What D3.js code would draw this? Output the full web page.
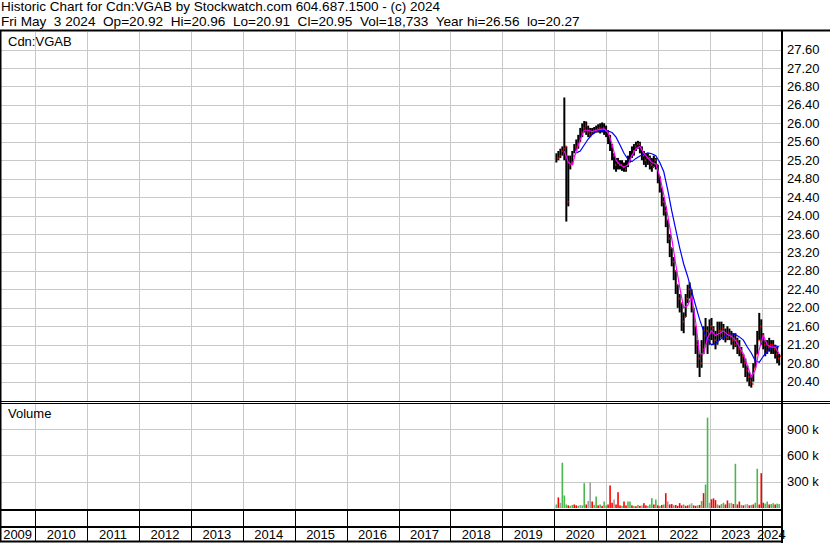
<!DOCTYPE html>
<html>
<head>
<meta charset="utf-8">
<script src="https://cdn.jsdelivr.net/npm/d3@7"></script>
<style>
  body { margin: 0; background: #fff; position: relative; }
  text { font-family: "Liberation Sans", Arial, sans-serif; fill: #000; }
  .head { position: absolute; left: 1px; white-space: pre; font-family: "Liberation Sans", Arial, sans-serif;
          color: #000; line-height: 15px; }
</style>
</head>
<body>
<svg id="chart" width="830" height="543"></svg>
<script>
// ---- data (one bar every two weeks) ----
const firstBar = new Date(2020, 0, 17)
const years = d3.range(2009, 2025)
const priceTicks = [20.4, 20.8, 21.2, 21.6, 22.0, 22.4, 22.8, 23.2, 23.6, 24.0, 24.4, 24.8, 25.2, 25.6, 26.0, 26.4, 26.8, 27.2, 27.6]
const volumeTicks = [300000, 600000, 900000]

const high = [25.35, 25.4, 25.45, 25.5, 26.56, 25.5, 25.3, 25.3, 25.4, 25.55,
  25.65, 25.75, 25.9, 26.0, 26.05, 26.04, 25.95, 25.9, 25.9, 25.92,
  25.95, 25.98, 26.0, 26.02, 26.0, 25.95, 25.85, 25.75, 25.55, 25.35,
  25.25, 25.25, 25.2, 25.2, 25.15, 25.2, 25.3, 25.4, 25.5, 25.55,
  25.6, 25.62, 25.6, 25.5, 25.4, 25.35, 25.35, 25.3, 25.25, 25.3,
  25.25, 25.1, 24.85, 24.6, 24.4, 24.2, 23.9, 23.6, 23.3, 23.1,
  22.8, 22.5, 22.3, 22.1, 21.9, 22.3, 22.5, 22.55, 22.4, 22.0,
  21.6, 21.3, 21.0, 21.3, 21.6, 21.78, 21.6, 21.75, 21.78, 21.6,
  21.5, 21.7, 21.7, 21.7, 21.65, 21.55, 21.6, 21.55, 21.5, 21.45,
  21.45, 21.35, 21.3, 21.15, 21.0, 20.9, 20.75, 20.6, 20.55, 20.8,
  21.2, 21.5, 21.89, 21.75, 21.45, 21.3, 21.3, 21.35, 21.3, 21.3,
  21.2, 21.15, 21.0]
const low = [25.15, 25.2, 25.25, 25.3, 25.2, 23.87, 24.2, 25.0, 25.1, 25.35,
  25.4, 25.45, 25.6, 25.7, 25.8, 25.75, 25.7, 25.7, 25.75, 25.78,
  25.8, 25.8, 25.78, 25.8, 25.75, 25.7, 25.55, 25.4, 25.2, 25.0,
  24.95, 25.0, 25.0, 24.97, 24.95, 24.95, 25.05, 25.15, 25.25, 25.3,
  25.4, 25.45, 25.35, 25.2, 25.1, 25.05, 25.1, 25.0, 24.95, 25.05,
  25.0, 24.7, 24.5, 24.2, 24.0, 23.75, 23.4, 23.1, 22.9, 22.6,
  22.3, 22.0, 21.9, 21.5, 21.45, 21.8, 22.1, 22.2, 21.9, 21.4,
  21.0, 20.7, 20.5, 20.7, 21.0, 21.2, 21.0, 21.2, 21.3, 21.2,
  21.1, 21.2, 21.3, 21.35, 21.3, 21.25, 21.3, 21.3, 21.2, 21.1,
  21.15, 21.0, 20.95, 20.8, 20.7, 20.5, 20.4, 20.3, 20.27, 20.4,
  20.7, 21.0, 21.3, 21.2, 21.1, 20.95, 21.0, 21.05, 21.0, 21.0,
  20.9, 20.8, 20.75]
const close = [25.25, 25.3, 25.4, 25.45, 25.5, 24.3, 25.1, 25.15, 25.3, 25.5,
  25.55, 25.6, 25.8, 25.9, 25.95, 25.8, 25.75, 25.78, 25.82, 25.85,
  25.88, 25.9, 25.85, 25.9, 25.85, 25.8, 25.7, 25.5, 25.3, 25.1,
  25.15, 25.1, 25.1, 25.05, 25.0, 25.1, 25.2, 25.3, 25.4, 25.5,
  25.55, 25.55, 25.45, 25.3, 25.2, 25.25, 25.25, 25.1, 25.05, 25.2,
  25.1, 24.85, 24.6, 24.3, 24.1, 23.9, 23.5, 23.3, 23.0, 22.8,
  22.5, 22.2, 22.1, 21.7, 21.8, 22.2, 22.4, 22.35, 22.0, 21.6,
  21.2, 20.9, 20.8, 21.1, 21.4, 21.5, 21.3, 21.6, 21.55, 21.3,
  21.25, 21.5, 21.5, 21.55, 21.4, 21.35, 21.45, 21.4, 21.3, 21.2,
  21.3, 21.1, 21.05, 20.95, 20.8, 20.65, 20.5, 20.4, 20.35, 20.7,
  21.0, 21.3, 21.6, 21.4, 21.2, 21.05, 21.15, 21.2, 21.2, 21.1,
  21.0, 20.9, 20.95]

// moving averages, one point every four weeks
const maFastStart = 4
const maFast = [25.4, 25.15, 25.1, 25.4, 25.65, 25.85, 25.85, 25.82, 25.85, 25.87,
  25.88, 25.8, 25.55, 25.2, 25.1, 25.05, 25.1, 25.3, 25.45, 25.5,
  25.35, 25.25, 25.15, 25.12, 24.85, 24.45, 24.0, 23.5, 22.95, 22.45,
  22.0, 22.05, 22.25, 21.7, 21.0, 21.0, 21.35, 21.5, 21.4, 21.45,
  21.5, 21.42, 21.38, 21.3, 21.15, 21.0, 20.75, 20.5, 20.65, 21.1,
  21.4, 21.2, 21.15, 21.15, 21.0]
const maSlowStart = 10
const maSlow = [25.36, 25.4, 25.53, 25.66, 25.76, 25.82, 25.84, 25.84, 25.83, 25.8,
  25.7, 25.53, 25.35, 25.22, 25.17, 25.24, 25.29, 25.33, 25.36, 25.34,
  25.3, 25.15, 24.95, 24.55, 24.1, 23.7, 23.3, 22.95, 22.68, 22.36,
  22.05, 21.75, 21.5, 21.3, 21.2, 21.23, 21.3, 21.36, 21.42, 21.45,
  21.42, 21.37, 21.3, 21.15, 21.02, 20.85, 20.82, 20.95, 21.06, 21.15,
  21.18, 21.15]

// volume in thousands, with direction: u = up, d = down, n = unchanged
const volume = [40, 120, 60, 516, 143, 40, 30, 25, 35, 40,
  30, 25, 35, 30, 283, 40, 80, 291, 74, 35,
  131, 30, 40, 25, 74, 30, 40, 257, 60, 97,
  40, 180, 30, 25, 74, 30, 74, 74, 30, 25,
  20, 35, 25, 30, 55, 30, 25, 40, 112, 40,
  97, 30, 25, 35, 40, 169, 74, 40, 45, 30,
  35, 25, 55, 30, 40, 25, 30, 40, 55, 30,
  25, 30, 35, 80, 169, 268, 1030, 60, 100, 110,
  90, 40, 30, 45, 60, 40, 86, 55, 60, 45,
  504, 40, 74, 35, 30, 40, 45, 30, 35, 40,
  60, 447, 40, 397, 60, 50, 74, 40, 45, 55,
  40, 50, 45]
const volDir = ['u','d','n','u','u','u','d','u','u','d',
  'd','u','n','u','u','d','n','n','d','u',
  'u','d','u','d','u','u','d','d','d','n',
  'd','d','d','u','d','d','u','u','d','u',
  'd','u','d','n','d','d','u','u','u','d',
  'u','d','u','d','u','d','n','d','d','u',
  'd','d','d','d','u','d','d','u','n','d',
  'd','u','d','u','d','u','u','n','d','d',
  'd','u','d','u','u','d','d','u','n','d',
  'u','d','d','u','d','n','n','d','u','d',
  'u','u','d','d','d','u','u','d','u','u',
  'd','u','u']

const header1 = 'Historic Chart for Cdn:VGAB by Stockwatch.com 604.687.1500 - (c) 2024'
// second header line: fields separated by two spaces, as on the original
const header2Fields = ['Fri May', '3 2024', 'Op=20.92', 'Hi=20.96', 'Lo=20.91', 'Cl=20.95', 'Vol=18,733', 'Year hi=26.56', 'lo=20.27']
const header2 = header2Fields.join('\u0020\u0020')

// ---- layout ----
const svg = d3.select('#chart')
const axisX = 782
const barDate = i => d3.timeDay.offset(firstBar, 14 * i)

const x = d3.scaleTime()
    .domain([new Date(2009, 3, 28), new Date(2024, 4, 16)])
    .range([0, axisX - 1])
const y = d3.scaleLinear().domain([19.98, 27.98]).range([401, 32])
const yVol = d3.scaleLinear().domain([0, 1186000]).range([508, 404])

const grid = '#c8c8c8'
const yearStarts = years.slice(1).map(yr => new Date(yr, 0, 1))

// header text as html so the double spaces stay
d3.select('body').append('div').attr('class', 'head')
    .style('top', '-1px').style('font-size', '13.5px').text(header1)
d3.select('body').append('div').attr('class', 'head')
    .style('top', '14px').style('font-size', '13.6px').text(header2)

// grid lines, price panel and volume panel
const gridG = svg.append('g').attr('stroke', grid).attr('stroke-width', 1)
gridG.selectAll('.vg').data(yearStarts).join('line')
    .attr('x1', d => Math.round(x(d)) + 0.5).attr('x2', d => Math.round(x(d)) + 0.5)
    .attr('y1', 32).attr('y2', 401)
gridG.selectAll('.vg2').data(yearStarts).join('line')
    .attr('x1', d => Math.round(x(d)) + 0.5).attr('x2', d => Math.round(x(d)) + 0.5)
    .attr('y1', 404).attr('y2', 509)
gridG.selectAll('.hg').data(priceTicks).join('line')
    .attr('x1', 1).attr('x2', axisX)
    .attr('y1', d => Math.round(y(d)) + 0.5).attr('y2', d => Math.round(y(d)) + 0.5)
gridG.selectAll('.hv').data(volumeTicks).join('line')
    .attr('x1', 1).attr('x2', axisX)
    .attr('y1', d => Math.round(yVol(d)) + 0.5).attr('y2', d => Math.round(yVol(d)) + 0.5)

// volume bars
const volColor = { u: '#4cb84c', d: '#ff0000', n: '#a0a0a0' }
svg.append('g').selectAll('rect').data(volume).join('rect')
    .attr('x', (d, i) => x(barDate(i)) - 0.8)
    .attr('width', 1.6)
    .attr('y', d => yVol(d * 1000))
    .attr('height', d => yVol(0) - yVol(d * 1000))
    .attr('fill', (d, i) => volColor[volDir[i]])

// price bars: black high-low, red close tick
const bars = close.map((c, i) => ({ date: barDate(i), hi: high[i], lo: low[i], cl: c }))
const barG = svg.append('g')
barG.selectAll('rect.hl').data(bars).join('rect')
    .attr('x', d => x(d.date) - 1).attr('width', 2)
    .attr('y', d => y(d.hi)).attr('height', d => Math.max(1, y(d.lo) - y(d.hi)))
    .attr('fill', '#000')
barG.selectAll('rect.cl').data(bars).join('rect')
    .attr('x', d => x(d.date) + 1).attr('width', 1.2)
    .attr('y', d => y(d.cl) - 1).attr('height', 2)
    .attr('fill', '#ff0000')

// moving averages
const line = d3.line().x(d => x(d.date)).y(d => y(d.v))
const slowPts = maSlow.map((v, k) => ({ date: barDate(maSlowStart + 2 * k), v }))
const fastPts = maFast.map((v, k) => ({ date: barDate(maFastStart + 2 * k), v }))
svg.append('path').datum(slowPts).attr('d', line)
    .attr('fill', 'none').attr('stroke', '#0000ff').attr('stroke-width', 1.2)
svg.append('path').datum(fastPts).attr('d', line)
    .attr('fill', 'none').attr('stroke', '#ff00ff').attr('stroke-width', 1.2)

// panel titles
svg.append('text').attr('x', 8).attr('y', 46).attr('font-size', 13).text('Cdn:VGAB')
svg.append('text').attr('x', 8).attr('y', 418).attr('font-size', 13).text('Volume')

// right axis labels
svg.append('g').selectAll('text').data(priceTicks).join('text')
    .attr('x', 787).attr('y', d => y(d)).attr('dy', '0.35em')
    .attr('font-size', 13).text(d => d.toFixed(2))
svg.append('g').selectAll('text').data(volumeTicks).join('text')
    .attr('x', 787).attr('y', d => yVol(d)).attr('dy', '0.35em')
    .attr('font-size', 13).text(d => d / 1000 + ' k')

// bottom date axis: dividers and year labels
const divG = svg.append('g').attr('stroke', '#000').attr('stroke-width', 1)
divG.selectAll('line').data(yearStarts).join('line')
    .attr('x1', d => Math.round(x(d)) + 0.5).attr('x2', d => Math.round(x(d)) + 0.5)
    .attr('y1', 511).attr('y2', 541)
const labelX = yr => {
  const a = Math.max(0, x(new Date(yr, 0, 1)))
  const b = Math.min(axisX - 1, x(new Date(yr + 1, 0, 1)))
  return (a + b) / 2
}
svg.append('g').selectAll('text').data(years).join('text')
    .attr('x', d => labelX(d)).attr('y', 539)
    .attr('text-anchor', 'middle').attr('font-size', 13).text(d => d)

// frame lines
const frame = svg.append('g').attr('stroke', '#000')
frame.append('line').attr('x1', 0).attr('x2', 830).attr('y1', 30.5).attr('y2', 30.5).attr('stroke-width', 2)
frame.append('line').attr('x1', 0).attr('x2', 830).attr('y1', 401.5).attr('y2', 401.5)
frame.append('line').attr('x1', 0).attr('x2', 830).attr('y1', 403.5).attr('y2', 403.5)
frame.append('line').attr('x1', 0).attr('x2', axisX).attr('y1', 510).attr('y2', 510).attr('stroke-width', 2)
frame.append('line').attr('x1', 0).attr('x2', axisX).attr('y1', 527).attr('y2', 527).attr('stroke-width', 2)
frame.append('line').attr('x1', 0).attr('x2', axisX).attr('y1', 541.5).attr('y2', 541.5).attr('stroke-width', 2)
frame.append('line').attr('x1', axisX).attr('x2', axisX).attr('y1', 30).attr('y2', 543).attr('stroke-width', 2)
frame.append('line').attr('x1', 0.5).attr('x2', 0.5).attr('y1', 30).attr('y2', 542).attr('stroke-width', 2)
</script>
</body>
</html>
